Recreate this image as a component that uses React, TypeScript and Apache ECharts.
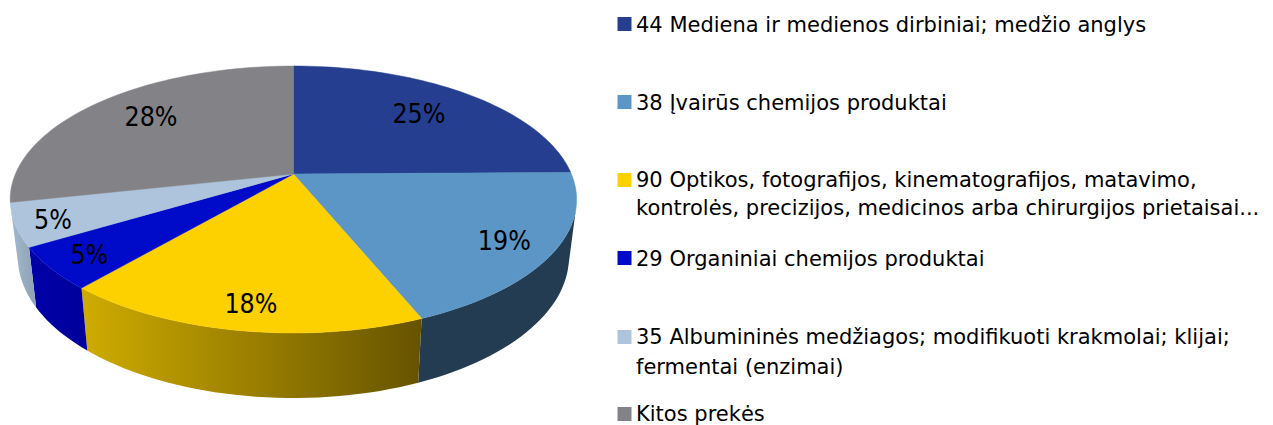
import React, { useEffect, useRef } from "react";
import * as echarts from "echarts";

const categories = [
  ["44 Mediena ir medienos dirbiniai; medžio anglys"],
  ["38 Įvairūs chemijos produktai"],
  ["90 Optikos, fotografijos, kinematografijos, matavimo,", "kontrolės, precizijos, medicinos arba chirurgijos prietaisai..."],
  ["29 Organiniai chemijos produktai"],
  ["35 Albumininės medžiagos; modifikuoti krakmolai; klijai;", "fermentai (enzimai)"],
  ["Kitos prekės"],
];
const values = [24.8, 19.0, 17.5, 5.1, 5.2, 28.4];
const topColors = ["#253e90", "#5b96c6", "#fdd000", "#000bca", "#adc4dc", "#838387"];
const wallFrom = ["#182a60", "#243c52", "#cfac00", "#0000a8", "#a5b9cd", "#5f5f62"];
const wallTo = ["#182a60", "#243c52", "#665300", "#00009a", "#8da1b5", "#5f5f62"];
const labelRadius = [0.71, 0.83, 0.86, 0.87, 0.87, 0.72];
const labelDx = [-1, 0, 3, 3, -1, 1];
const labelDy = [-1, 2, -1, 0, 2, -4];
const legendCenters = [24, 102, 180, 258, 337, 414];
const lineTextCenters = [25, 103, [180, 208], 259, [337, 367], 414];

const FONT = '"DejaVu Sans", sans-serif';
const LABEL_FONT = '"DejaVu Sans Condensed", "DejaVu Sans", sans-serif';
const CX = 293.4, CY = 174, A = 278, B = 128.6, K = 0.191;
const DEPTH_SCALE_X = 0.973, DEPTH_SCALE_Y = 1.057, BOTTOM_Y = 230;
const WALL_START = 29, WALL_END = 71;

function project(pct: number, r = 1): [number, number] {
  const t = (pct / 100) * Math.PI * 2;
  const u = Math.sin(t) * r, v = Math.cos(t) * r;
  const w = 1 + K * v;
  return [CX + (A * u) / w, CY - (B * v) / w];
}
function arc(a: number, b: number): [number, number][] {
  const n = Math.max(2, Math.ceil((b - a) * 2));
  const pts: [number, number][] = [];
  for (let i = 0; i <= n; i++) pts.push(project(a + ((b - a) * i) / n));
  return pts;
}
const sink = (p: [number, number]): [number, number] => [
  CX + (p[0] - CX) * DEPTH_SCALE_X,
  BOTTOM_Y + (p[1] - CY) * DEPTH_SCALE_Y,
];

let acc = 0;
const sliceData = values.map((v, i) => {
  const row = [acc, acc + v, i, v];
  acc += v;
  return row;
});

export default function App() {
  const ref = useRef<HTMLDivElement>(null);
  useEffect(() => {
    const chart = echarts.init(ref.current!, undefined, { renderer: "svg" });
    const legend: any[] = [];
    categories.forEach((lines, i) => {
      const c = legendCenters[i];
      const ys = ([] as number[]).concat(lineTextCenters[i] as any);
      legend.push({ type: "rect", shape: { x: 617.5, y: c - 7, width: 14, height: 14 }, style: { fill: topColors[i] } });
      lines.forEach((line, j) => {
        legend.push({
          type: "text",
          x: 636,
          y: ys[j],
          style: { text: line, font: `21px ${FONT}`, fill: "#000", textVerticalAlign: "middle", textAlign: "left" },
        });
      });
    });
    chart.setOption({
      animation: false,
      graphic: { elements: legend },
      series: [
        {
          type: "custom", coordinateSystem: "none", data: sliceData, z: 1, silent: true,
          renderItem: (_p: any, api: any) => {
            const a = Math.max(api.value(0), WALL_START), b = Math.min(api.value(1), WALL_END), i = api.value(2);
            if (a >= b) return null;
            const top = arc(a, b);
            const pts = [...top, ...top.slice().reverse().map(sink)];
            return {
              type: "polygon",
              shape: { points: pts },
              style: {
                fill: new echarts.graphic.LinearGradient(0, 0, 1, 0, [
                  { offset: 0, color: wallFrom[i] },
                  { offset: 1, color: wallTo[i] },
                ]),
              },
            };
          },
        },
        {
          type: "custom", coordinateSystem: "none", data: sliceData, z: 2, silent: true,
          renderItem: (_p: any, api: any) => {
            const a = api.value(0), b = api.value(1), i = api.value(2);
            return {
              type: "polygon",
              shape: { points: [[CX, CY], ...arc(a, b)] },
              style: { fill: topColors[i], stroke: topColors[i], lineWidth: 0.5 },
            };
          },
        },
        {
          type: "custom", coordinateSystem: "none", data: sliceData, z: 3, silent: true,
          renderItem: (_p: any, api: any) => {
            const a = api.value(0), b = api.value(1), i = api.value(2), v = api.value(3);
            const p = project((a + b) / 2, labelRadius[i]);
            return {
              type: "text", x: p[0] + labelDx[i], y: p[1] + labelDy[i],
              style: { text: `${Math.round(v)}%`, font: `26.5px ${LABEL_FONT}`, fill: "#000", textAlign: "center", textVerticalAlign: "middle" },
            };
          },
        },
      ],
    });
    return () => chart.dispose();
  }, []);
  return <div ref={ref} style={{ position: "absolute", left: 0, top: 0, width: 1273, height: 425 }} />;
}
